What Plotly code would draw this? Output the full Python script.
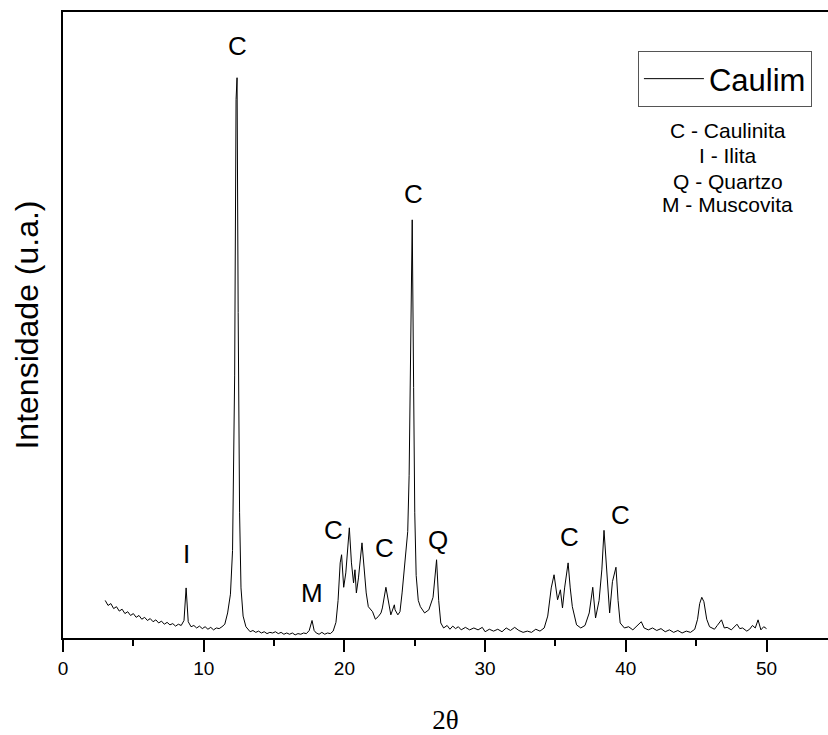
import plotly.graph_objects as go

# XRD pattern of the kaolin sample (2-theta in degrees, intensity in arbitrary units)
two_theta = [
    3.0, 3.2, 3.4, 3.6, 3.8, 4.0, 4.2, 4.4, 4.6, 4.8, 5.0, 5.2, 5.4, 5.6, 5.8,
    6.0, 6.2, 6.4, 6.6, 6.8, 7.0, 7.2, 7.4, 7.6, 7.8, 8.0, 8.2, 8.4, 8.6, 8.75,
    8.9, 9.1, 9.3, 9.5, 9.7, 9.9, 10.1, 10.3, 10.5, 10.7, 10.9, 11.1, 11.3, 11.5,
    11.7, 11.9, 12.05, 12.2, 12.3, 12.37, 12.45, 12.55, 12.65, 12.8, 13.0,
    13.3, 13.5, 13.7, 13.9, 14.1, 14.3, 14.5, 14.7, 14.9, 15.1, 15.3, 15.5, 15.7,
    15.9, 16.1, 16.3, 16.5, 16.7, 16.9, 17.1, 17.3, 17.5, 17.7, 17.85, 18.0,
    18.2, 18.4, 18.6, 18.8, 19.0, 19.2, 19.4, 19.55, 19.7, 19.8, 19.95, 20.1,
    20.35, 20.5, 20.65, 20.75, 20.85, 21.0, 21.25, 21.35, 21.55, 21.7, 22.0,
    22.2, 22.4, 22.6, 22.7, 22.95, 23.15, 23.3, 23.55, 23.6, 23.8, 23.95, 24.1,
    24.3, 24.5, 24.6, 24.7, 24.82, 24.92, 25.0, 25.1, 25.25, 25.4, 25.7, 26.0,
    26.3, 26.55, 26.7, 26.85, 27.05, 27.3, 27.5, 27.7, 27.9, 28.1, 28.3, 28.6,
    28.9, 29.2, 29.5, 29.8, 30.0, 30.3, 30.6, 30.9, 31.2, 31.5, 31.8, 32.1,
    32.4, 32.7, 33.0, 33.3, 33.6, 33.9, 34.2, 34.45, 34.7, 34.9, 35.15, 35.35,
    35.5, 35.65, 35.9, 36.05, 36.2, 36.5, 36.8, 37.1, 37.4, 37.65, 37.85, 38.1,
    38.3, 38.45, 38.7, 38.85, 39.05, 39.3, 39.45, 39.6, 39.9, 40.2, 40.5, 40.8,
    41.1, 41.3, 41.6, 41.9, 42.2, 42.5, 42.8, 43.1, 43.4, 43.7, 44.0, 44.3,
    44.6, 44.9, 45.1, 45.25, 45.4, 45.55, 45.75, 45.95, 46.3, 46.5, 46.8, 47.0,
    47.2, 47.5, 47.9, 48.1, 48.3, 48.6, 48.8, 49.0, 49.2, 49.4, 49.6, 49.8, 50.0,
]
intensity = [
    60, 52, 55, 47, 50, 43, 46, 39, 42, 36, 39, 33, 36, 30, 33,
    28, 31, 26, 29, 24, 27, 22, 25, 21, 23, 19, 22, 20, 28, 80,
    26, 18, 20, 16, 19, 15, 18, 14, 17, 13, 16, 15, 18, 22,
    40, 70, 140, 420, 860, 895, 520, 200, 80, 35, 18,
    10, 12, 9, 11, 8, 10, 7, 9, 8, 10, 7, 9, 6,
    8, 6, 8, 5, 7, 6, 8, 7, 12, 28, 12, 8,
    6, 9, 6, 8, 7, 11, 25, 60, 120, 133, 81, 104,
    176, 120, 88, 109, 72, 96, 152, 129, 72, 50, 42,
    30, 34, 40, 48, 81, 56, 37, 53, 45, 37, 42, 72,
    120, 170, 260, 480, 668, 400, 200, 100, 60, 50, 40, 45,
    65, 125, 60, 24, 16, 20, 14, 19, 15, 18, 13, 17,
    13, 16, 13, 17, 10, 14, 11, 14, 10, 16, 12, 17,
    12, 9, 11, 9, 14, 11, 16, 35, 80, 101, 61, 77,
    48, 80, 120, 80, 50, 21, 16, 20, 40, 81, 32, 60,
    110, 172, 90, 40, 90, 113, 60, 24, 16, 18, 13, 19,
    26, 16, 13, 16, 12, 15, 10, 13, 9, 12, 8, 11,
    9, 14, 30, 55, 65, 58, 30, 18, 14, 20, 29, 16,
    17, 13, 22, 15, 16, 11, 14, 20, 16, 29, 13, 18, 15,
]

# Phase labels placed over their reflections
peak_labels = ["C", "C", "I", "M", "C", "C", "Q", "C", "C"]
peak_label_x = [12.4, 24.88, 8.79, 17.7, 19.19, 22.88, 26.65, 36.03, 39.59]
peak_label_y = [945, 710, 134, 72, 172, 144, 157, 161, 196]

# Key of the mineral phases
phase_key = ["C - Caulinita", "I - Ilita", "Q - Quartzo", "M - Muscovita"]
phase_key_y = [0.8115, 0.770, 0.730, 0.6917]

x_ticks = [0, 10, 20, 30, 40, 50]

SANS = "Liberation Sans, Arial"

fig = go.Figure()
fig.add_trace(go.Scatter(
    x=two_theta, y=intensity, mode="lines", name="Caulim",
    line=dict(color="black", width=1),
))

for lab, lx, ly in zip(peak_labels, peak_label_x, peak_label_y):
    fig.add_annotation(x=lx, y=ly, xref="x", yref="y", text=lab, showarrow=False,
                       xanchor="center", yanchor="middle",
                       font=dict(family=SANS, size=26, color="black"))

for txt, ty in zip(phase_key, phase_key_y):
    fig.add_annotation(x=0.869, y=ty, xref="paper", yref="paper", text=txt, showarrow=False,
                       xanchor="center", yanchor="middle",
                       font=dict(family=SANS, size=21, color="black"))

fig.update_layout(
    width=828, height=735,
    margin=dict(l=63, r=0, t=12, b=97, autoexpand=False),
    paper_bgcolor="white", plot_bgcolor="white",
    font=dict(family=SANS, color="black"),
    showlegend=True,
    legend=dict(
        x=0.979, y=0.9377, xanchor="right", yanchor="top",
        bordercolor="#555555", borderwidth=1, bgcolor="white",
        font=dict(size=31, color="black", family=SANS), itemwidth=60,
    ),
    xaxis=dict(
        range=[0, 54.37], tickvals=x_ticks, ticks="outside", ticklen=12, tickwidth=2,
        tickcolor="black", showline=True, linecolor="black", linewidth=2, mirror=True,
        showgrid=False, zeroline=False, ticklabelstandoff=0,
        tickfont=dict(size=19, family=SANS),
        minor=dict(dtick=5, tick0=0, ticks="outside", ticklen=6, tickwidth=2, tickcolor="black"),
        title=dict(text="2θ", standoff=40,
                   font=dict(family="Liberation Serif, Times New Roman", size=27)),
    ),
    yaxis=dict(
        range=[0, 1000], showticklabels=False, ticks="", showline=True, linecolor="black",
        linewidth=2, mirror=False, showgrid=False, zeroline=False,
        title=dict(text="Intensidade (u.a.)", standoff=13,
                   font=dict(family=SANS, size=32)),
    ),
)

fig.write_html("out.html")
